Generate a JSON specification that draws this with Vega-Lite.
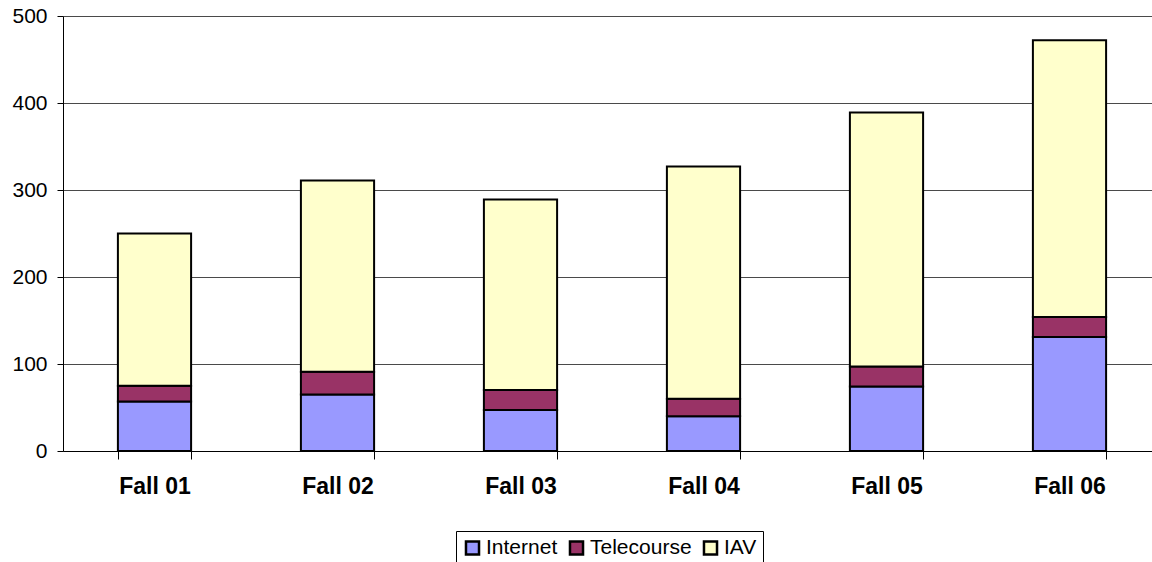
{
  "$schema": "https://vega.github.io/schema/vega-lite/v6.json",
  "autosize": {"type": "none"},
  "padding": {"left": 63, "top": 16, "right": 0, "bottom": 111},
  "width": 1089,
  "height": 435,
  "background": "white",
  "data": {
    "values": [
      {"season": "Fall 01", "type": "Internet", "k": 1, "value": 57},
      {"season": "Fall 01", "type": "Telecourse", "k": 2, "value": 18},
      {"season": "Fall 01", "type": "IAV", "k": 3, "value": 175},
      {"season": "Fall 02", "type": "Internet", "k": 1, "value": 65},
      {"season": "Fall 02", "type": "Telecourse", "k": 2, "value": 26},
      {"season": "Fall 02", "type": "IAV", "k": 3, "value": 220},
      {"season": "Fall 03", "type": "Internet", "k": 1, "value": 47},
      {"season": "Fall 03", "type": "Telecourse", "k": 2, "value": 23},
      {"season": "Fall 03", "type": "IAV", "k": 3, "value": 219},
      {"season": "Fall 04", "type": "Internet", "k": 1, "value": 40},
      {"season": "Fall 04", "type": "Telecourse", "k": 2, "value": 20},
      {"season": "Fall 04", "type": "IAV", "k": 3, "value": 267},
      {"season": "Fall 05", "type": "Internet", "k": 1, "value": 74},
      {"season": "Fall 05", "type": "Telecourse", "k": 2, "value": 23},
      {"season": "Fall 05", "type": "IAV", "k": 3, "value": 292},
      {"season": "Fall 06", "type": "Internet", "k": 1, "value": 131},
      {"season": "Fall 06", "type": "Telecourse", "k": 2, "value": 23},
      {"season": "Fall 06", "type": "IAV", "k": 3, "value": 318}
    ]
  },
  "mark": {"type": "bar", "stroke": "black", "strokeWidth": 2},
  "encoding": {
    "x": {
      "field": "season",
      "type": "nominal",
      "scale": {"range": [0, 1098], "paddingInner": 0.6, "paddingOuter": 0.3},
      "axis": {
        "title": null,
        "labelAngle": 0,
        "labelFont": "Liberation Sans",
        "labelFontSize": 23,
        "labelFontWeight": "bold",
        "labelColor": "black",
        "labelPadding": 16,
        "tickBand": "extent",
        "tickSize": 8,
        "tickColor": "black",
        "domainColor": "black",
        "grid": false
      }
    },
    "y": {
      "field": "value",
      "type": "quantitative",
      "aggregate": "sum",
      "stack": "zero",
      "scale": {"domain": [0, 500], "nice": false},
      "axis": {
        "title": null,
        "values": [0, 100, 200, 300, 400, 500],
        "labelFont": "Liberation Sans",
        "labelFontSize": 21,
        "labelColor": "black",
        "labelPadding": 10,
        "tickSize": 6,
        "tickColor": "black",
        "domainColor": "black",
        "grid": true,
        "gridColor": "#4a4a4a",
        "gridWidth": 1
      }
    },
    "color": {
      "field": "type",
      "type": "nominal",
      "scale": {"domain": ["Internet", "Telecourse", "IAV"], "range": ["#9999FF", "#993366", "#FFFFCC"]},
      "legend": {
        "title": null,
        "orient": "none",
        "legendX": 393,
        "legendY": 515,
        "direction": "horizontal",
        "strokeColor": "black",
        "padding": 6,
        "symbolType": "square",
        "symbolSize": 170,
        "symbolStrokeColor": "black",
        "symbolStrokeWidth": 2.5,
        "symbolOpacity": 1,
        "labelFont": "Liberation Sans",
        "labelFontSize": 21,
        "labelColor": "black",
        "labelOffset": 3,
        "columnPadding": 6
      }
    },
    "order": {"field": "k", "type": "quantitative"}
  },
  "config": {"view": {"stroke": null}}
}
